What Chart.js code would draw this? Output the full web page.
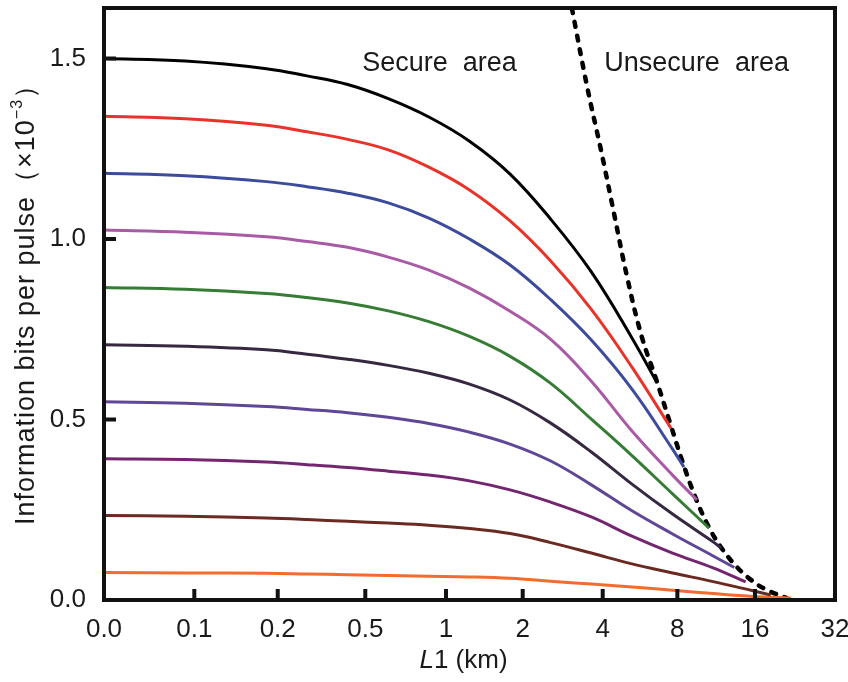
<!DOCTYPE html>
<html>
<head>
<meta charset="utf-8">
<script src="https://cdn.jsdelivr.net/npm/chart.js@4.4.1/dist/chart.umd.min.js"></script>
<style>
  html, body { margin: 0; padding: 0; background: #fff; }
  #wrap { width: 848px; height: 682px; }
</style>
</head>
<body>
<div id="wrap"><canvas id="chart" width="848" height="682"></canvas></div>
<script>
// x axis is drawn with uneven spacing; positions are in axis units (0..9)
const xTickPos = [0, 1.112, 2.139, 3.217, 4.211, 5.155, 6.140, 7.059, 8.015, 9];
const xTickLabels = ['0.0', '0.1', '0.2', '0.5', '1', '2', '4', '8', '16', '32'];
const yTickVals = [0, 0.5, 1.0, 1.5];

// [axis position, bits per pulse x1e-3]
const lineBlack = [[0, 1.500], [1, 1.493], [2, 1.472], [2.5, 1.452], [3, 1.428], [3.5, 1.389], [4, 1.338], [4.5, 1.271], [5, 1.180], [5.5, 1.055], [6, 0.909], [6.5, 0.726], [6.81, 0.601]];
const lineRed = [[0, 1.340], [1, 1.333], [2, 1.315], [2.5, 1.297], [3, 1.276], [3.5, 1.247], [4, 1.199], [4.5, 1.136], [5, 1.050], [5.5, 0.939], [6, 0.805], [6.5, 0.645], [6.98, 0.476]];
const lineBlue = [[0, 1.182], [1, 1.175], [2, 1.159], [2.5, 1.145], [3, 1.127], [3.5, 1.100], [4, 1.058], [4.5, 1.000], [5, 0.928], [5.5, 0.832], [6, 0.720], [6.5, 0.584], [7, 0.418], [7.14, 0.368]];
const lineMagenta = [[0, 1.025], [1, 1.019], [2, 1.006], [2.5, 0.993], [3, 0.977], [3.5, 0.950], [4, 0.914], [4.5, 0.864], [5, 0.800], [5.5, 0.722], [6, 0.606], [6.5, 0.468], [7, 0.346], [7.30, 0.277]];
const lineGreen = [[0, 0.866], [1, 0.861], [2, 0.849], [2.5, 0.838], [3, 0.823], [3.5, 0.801], [4, 0.771], [4.5, 0.730], [5, 0.675], [5.5, 0.600], [6, 0.501], [6.5, 0.400], [7, 0.294], [7.45, 0.199]];
const lineNavy = [[0, 0.707], [1, 0.703], [2, 0.693], [2.5, 0.681], [3, 0.667], [3.5, 0.650], [4, 0.628], [4.5, 0.598], [5, 0.554], [5.5, 0.490], [6, 0.410], [6.5, 0.321], [7, 0.238], [7.5, 0.161], [7.60, 0.144]];
const lineViolet = [[0, 0.549], [1, 0.545], [2, 0.536], [2.5, 0.528], [3, 0.519], [3.5, 0.506], [4, 0.489], [4.5, 0.465], [5, 0.432], [5.5, 0.385], [6, 0.319], [6.5, 0.247], [7, 0.183], [7.5, 0.122], [7.76, 0.090]];
const linePurple = [[0, 0.391], [1, 0.389], [2, 0.382], [2.5, 0.375], [3, 0.367], [3.5, 0.357], [4, 0.346], [4.5, 0.330], [5, 0.305], [5.5, 0.271], [6, 0.230], [6.5, 0.177], [7, 0.130], [7.5, 0.089], [7.90, 0.050]];
const lineBrown = [[0, 0.234], [1, 0.232], [2, 0.227], [2.5, 0.223], [3, 0.218], [3.5, 0.213], [4, 0.207], [4.5, 0.198], [5, 0.184], [5.5, 0.159], [6, 0.130], [6.5, 0.100], [7, 0.075], [7.5, 0.051], [8, 0.025], [8.21, 0.014]];
const lineOrange = [[0, 0.076], [1, 0.075], [2, 0.074], [2.5, 0.072], [3, 0.070], [4, 0.066], [4.5, 0.064], [5, 0.060], [5.5, 0.052], [6, 0.044], [6.5, 0.036], [7, 0.027], [7.5, 0.018], [8, 0.010], [8.46, 0.005]];
const boundary = [[5.76, 1.64], [5.95, 1.42], [6.12, 1.245], [6.28, 1.07], [6.44, 0.895], [6.62, 0.73], [6.80, 0.61], [6.97, 0.49], [7.12, 0.385], [7.28, 0.285], [7.44, 0.205], [7.60, 0.145], [7.79, 0.092], [7.97, 0.055], [8.16, 0.028], [8.40, 0.006]];

const FONT = "'Liberation Sans', Arial, sans-serif";
const INK = '#1a1a1a';

const curves = [
    { data: lineBlack, color: '#000000' },
    { data: lineRed, color: '#e8332b' },
    { data: lineBlue, color: '#3c4b9b' },
    { data: lineMagenta, color: '#a95aa6' },
    { data: lineGreen, color: '#367c35' },
    { data: lineNavy, color: '#352840' },
    { data: lineViolet, color: '#5f4797' },
    { data: linePurple, color: '#74256f' },
    { data: lineBrown, color: '#6a2a22' },
    { data: lineOrange, color: '#f26b2f' }
];

const toXY = arr => arr.map(p => ({ x: p[0], y: p[1] }));

const datasets = curves.map(c => ({
    data: toXY(c.data), borderColor: c.color, borderWidth: 3,
    pointRadius: 0, fill: false, tension: 0.4
}));
datasets.push({
    data: toXY(boundary), borderColor: '#000', borderWidth: 4.5, borderDash: [5, 9],
    borderCapStyle: 'round', pointRadius: 0, fill: false, tension: 0.4
});

const decorations = {
    id: 'decorations',
    afterDraw(chart) {
        const { ctx, chartArea: a, scales: { x, y } } = chart;
        ctx.save();
        ctx.strokeStyle = '#111';
        ctx.lineWidth = 4;
        // inner ticks
        ctx.beginPath();
        yTickVals.slice(1).forEach(v => {
            const py = y.getPixelForValue(v);
            ctx.moveTo(a.left, py); ctx.lineTo(a.left + 12, py);
        });
        xTickPos.slice(1, -1).forEach(v => {
            const px = x.getPixelForValue(v);
            ctx.moveTo(px, a.bottom); ctx.lineTo(px, a.bottom - 11);
        });
        ctx.stroke();
        // frame
        ctx.strokeRect(a.left, a.top, a.right - a.left, a.bottom - a.top);

        // region labels
        ctx.fillStyle = INK;
        ctx.font = `27px ${FONT}`;
        ctx.textBaseline = 'alphabetic';
        ctx.textAlign = 'left';
        ctx.fillText('Secure  area', x.getPixelForValue(3.18), y.getPixelForValue(1.465));
        ctx.fillText('Unsecure  area', x.getPixelForValue(6.16), y.getPixelForValue(1.465));

        // x title with italic L
        const cx = (a.left + a.right) / 2 - 6, by = 668;
        ctx.font = `italic 26px ${FONT}`;
        const w1 = ctx.measureText('L').width;
        ctx.font = `26px ${FONT}`;
        const w2 = ctx.measureText('1 (km)').width;
        let sx = cx - (w1 + w2) / 2;
        ctx.font = `italic 26px ${FONT}`;
        ctx.fillText('L', sx, by);
        ctx.font = `26px ${FONT}`;
        ctx.fillText('1 (km)', sx + w1, by);

        // y title, rotated, with superscript
        const main = 'Information bits per pulse（×10';
        const sup = '−3';
        const tail = '）';
        ctx.letterSpacing = '1px';
        ctx.font = `27px ${FONT}`;
        const m1 = ctx.measureText(main).width;
        const m3 = ctx.measureText(tail).width;
        ctx.font = `16px ${FONT}`;
        const m2 = ctx.measureText(sup).width;
        const total = m1 + m2 + m3;
        ctx.translate(34, (a.top + a.bottom) / 2 - 6);
        ctx.rotate(-Math.PI / 2);
        let tx = -total / 2;
        ctx.font = `27px ${FONT}`;
        ctx.fillText(main, tx, 0);
        ctx.font = `16px ${FONT}`;
        ctx.fillText(sup, tx + m1, -12);
        ctx.font = `27px ${FONT}`;
        ctx.fillText(tail, tx + m1 + m2, 0);
        ctx.restore();
    }
};

new Chart(document.getElementById('chart'), {
    type: 'line',
    data: { datasets },
    options: {
        responsive: false,
        animation: false,
        layout: { padding: { top: 8, right: 13, left: 0, bottom: 0 } },
        plugins: { legend: { display: false }, tooltip: { enabled: false } },
        scales: {
            x: {
                type: 'linear', min: 0, max: 9,
                grid: { display: false, drawTicks: false },
                border: { display: false },
                afterBuildTicks: s => { s.ticks = xTickPos.map(v => ({ value: v })); },
                afterFit: s => { s.height = 82; s.paddingLeft = 0; s.paddingRight = 0; },
                ticks: {
                    autoSkip: false, maxRotation: 0, padding: 14, color: INK,
                    font: { family: FONT, size: 26 },
                    callback: (v, i) => xTickLabels[i]
                }
            },
            y: {
                type: 'linear', min: 0, max: 1.64,
                grid: { display: false, drawTicks: false },
                border: { display: false },
                afterBuildTicks: s => { s.ticks = yTickVals.map(v => ({ value: v })); },
                afterFit: s => { s.width = 104; s.paddingTop = 0; s.paddingBottom = 0; },
                ticks: {
                    padding: 18, color: INK,
                    font: { family: FONT, size: 26 },
                    callback: v => v.toFixed(1)
                }
            }
        }
    },
    plugins: [decorations]
});
</script>
</body>
</html>
